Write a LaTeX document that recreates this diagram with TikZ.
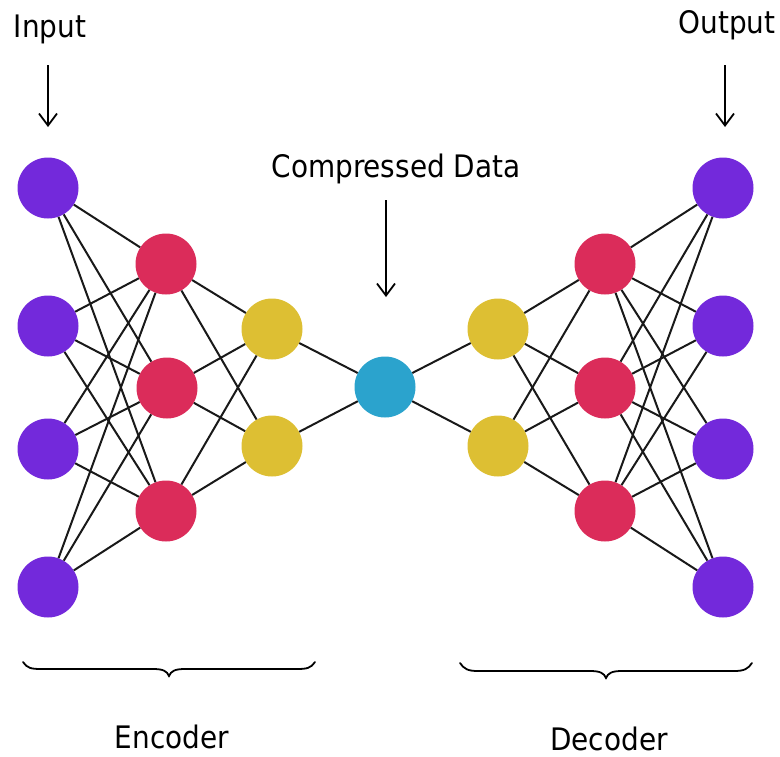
\documentclass[tikz,border=0pt]{standalone}
\usepackage{fontspec}
\setmainfont{DejaVu Sans Condensed}
\usetikzlibrary{arrows.meta}

\definecolor{ioviolet}{HTML}{7329DB}
\definecolor{hidred}{HTML}{DB2C5A}
\definecolor{midgold}{HTML}{DDBF33}
\definecolor{codeblue}{HTML}{2BA3CD}

\begin{document}
\begin{tikzpicture}[x=1pt,y=-1pt,
  neuron/.style={circle,inner sep=0pt,minimum size=61pt},
  link/.style={line width=2pt,black!90},
  pointer/.style={line width=1.8pt,-{Straight Barb[length=12pt,width=18pt,line width=1.8pt]}},
  txt/.style={font=\fontsize{31}{36}\selectfont,anchor=base,inner sep=0pt},
  curlybrace/.style={line width=1.8pt,line cap=round}]
\useasboundingbox (0,0) rectangle (780,756);

% encoder layers
\node[neuron,fill=ioviolet] (i1) at (48,188) {};
\node[neuron,fill=ioviolet] (i2) at (48,326) {};
\node[neuron,fill=ioviolet] (i3) at (48,449) {};
\node[neuron,fill=ioviolet] (i4) at (48,587) {};
\node[neuron,fill=hidred] (h1) at (166,264) {};
\node[neuron,fill=hidred] (h2) at (167,388) {};
\node[neuron,fill=hidred] (h3) at (166,511) {};
\node[neuron,fill=midgold] (y1) at (272,329) {};
\node[neuron,fill=midgold] (y2) at (272,446) {};
% bottleneck
\node[neuron,fill=codeblue] (c) at (385,387) {};
% decoder layers
\node[neuron,fill=midgold] (z1) at (498,329) {};
\node[neuron,fill=midgold] (z2) at (498,446) {};
\node[neuron,fill=hidred] (g1) at (605,264) {};
\node[neuron,fill=hidred] (g2) at (605,388) {};
\node[neuron,fill=hidred] (g3) at (605,511) {};
\node[neuron,fill=ioviolet] (o1) at (723,188) {};
\node[neuron,fill=ioviolet] (o2) at (723,326) {};
\node[neuron,fill=ioviolet] (o3) at (723,449) {};
\node[neuron,fill=ioviolet] (o4) at (723,587) {};

% fully connected weights
\foreach \a in {i1,i2,i3,i4} \foreach \b in {h1,h2,h3} \draw[link] (\a) -- (\b);
\foreach \a in {h1,h2,h3} \foreach \b in {y1,y2} \draw[link] (\a) -- (\b);
\foreach \a in {y1,y2} \draw[link] (\a) -- (c);
\foreach \b in {z1,z2} \draw[link] (c) -- (\b);
\foreach \a in {z1,z2} \foreach \b in {g1,g2,g3} \draw[link] (\a) -- (\b);
\foreach \a in {g1,g2,g3} \foreach \b in {o1,o2,o3,o4} \draw[link] (\a) -- (\b);

% captions and pointers
\node[txt] (input) at (50,37) {Input};
\node[txt] (output) at (727,33) {Output};
\node[txt] (compressed) at (396,177) {Compressed Data};
\node[txt] (encoder) at (172,748) {Encoder};
\node[txt] (decoder) at (609,750) {Decoder};

\coordinate (inS) at (48,65);  \coordinate (inE) at (48,127);
\coordinate (outS) at (725,65); \coordinate (outE) at (725,127);
\coordinate (cS) at (386,200); \coordinate (cE) at (386,297);
\draw[pointer] (inS) -- (inE);
\draw[pointer] (outS) -- (outE);
\draw[pointer] (cS) -- (cE);

% braces under encoder and decoder
\draw[curlybrace] (23,662) .. controls (27,668) and (31,669) .. (41,669)
  -- (153,669) .. controls (163,669) and (167,671) .. (169,676)
  .. controls (171,671) and (175,669) .. (185,669)
  -- (297,669) .. controls (307,669) and (311,668) .. (315,662);
\draw[curlybrace] (460,663) .. controls (464,669) and (468,671) .. (478,671)
  -- (590,671) .. controls (600,671) and (604,673) .. (606,678)
  .. controls (608,673) and (612,671) .. (622,671)
  -- (734,671) .. controls (744,671) and (748,669) .. (752,663);
\end{tikzpicture}
\end{document}
